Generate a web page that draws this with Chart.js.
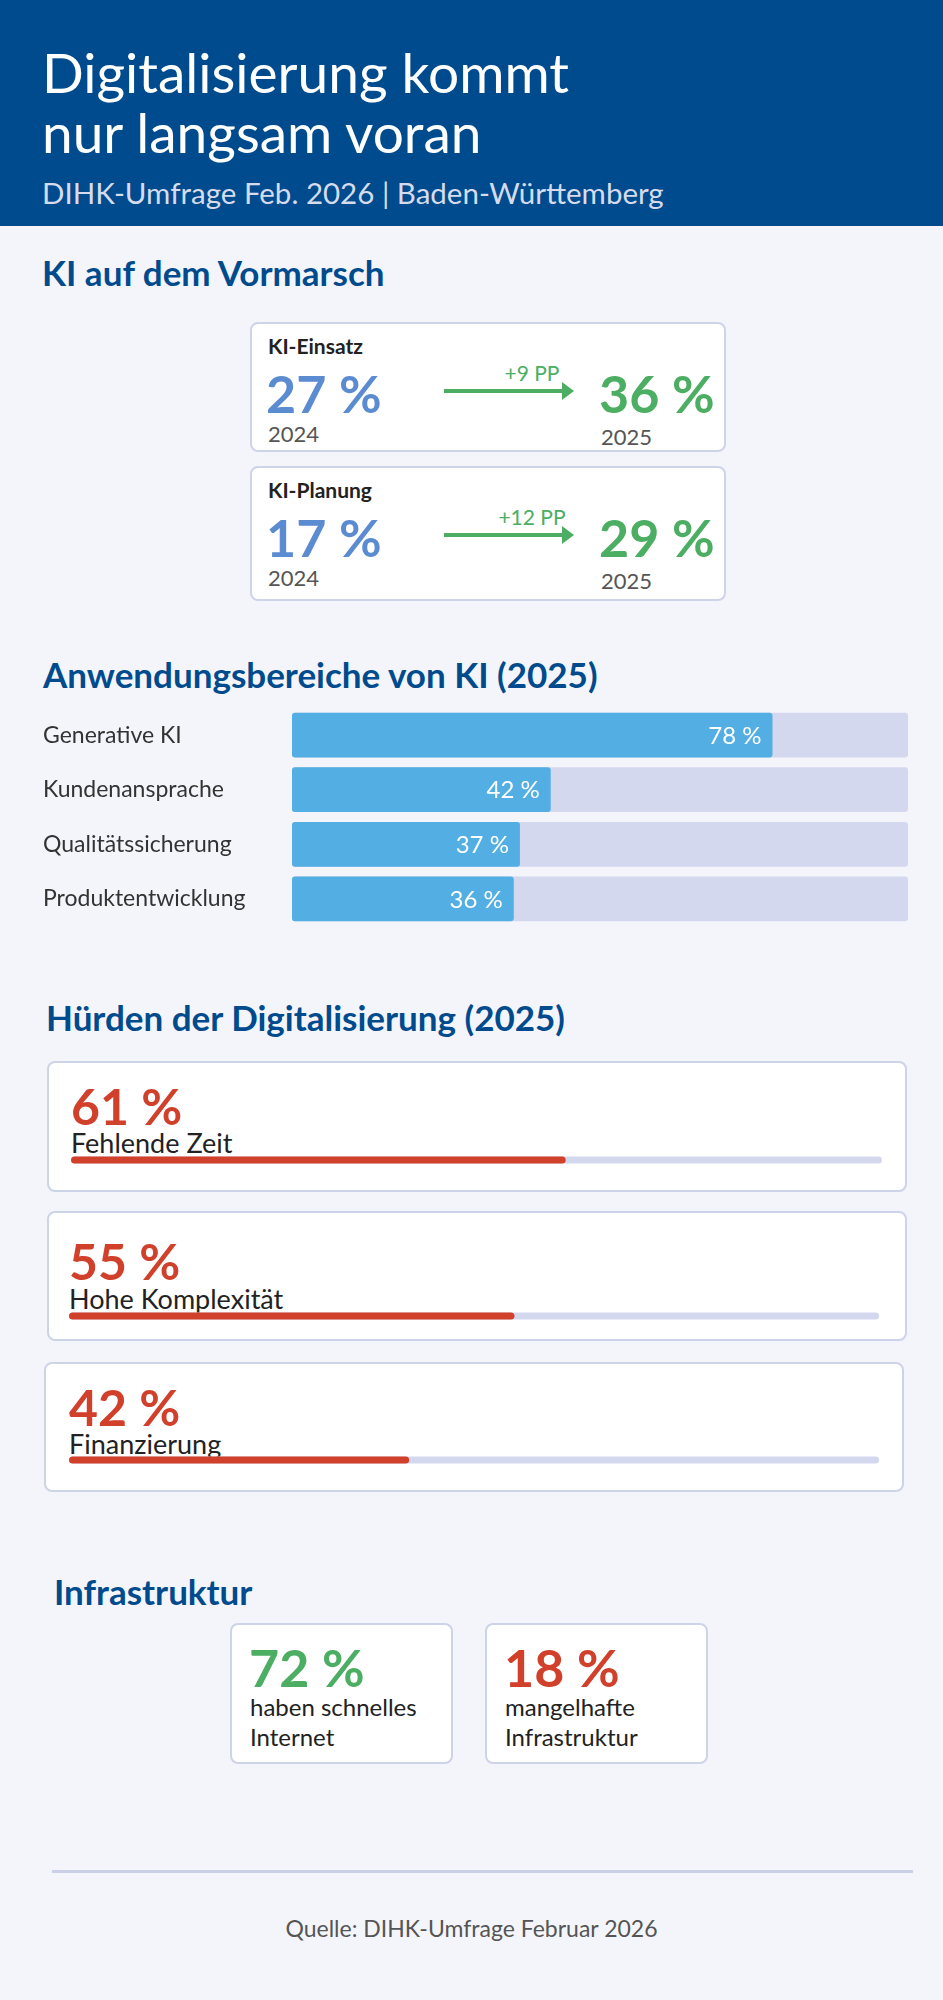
<!DOCTYPE html>
<html><head><meta charset="utf-8">
<script src="https://cdn.jsdelivr.net/npm/chart.js@4.4.1/dist/chart.umd.min.js"></script>
<style>
body{margin:0;background:#F4F5FB;font-family:Lato,"Noto Sans",sans-serif;}
#page{position:relative;width:943px;height:2000px;background:#F4F5FB;overflow:hidden}
.a{position:absolute;line-height:1;white-space:nowrap}
.card{position:absolute;background:#fff;border:2px solid #CDD3E8;border-radius:8px;box-sizing:border-box}
.h{color:#004B8D;font-weight:700;font-size:35px}
.blue{color:#5B8CD1;font-weight:700;font-size:52px}
.green{color:#4BAE62;font-weight:700;font-size:52px}
.red{color:#D1402A;font-weight:700;font-size:50px}
.yr{color:#555;font-size:22px}
.arrow{position:absolute;height:4px;background:#4BAE62}
.arrow:after{content:"";position:absolute;right:-10px;top:-7px;border-left:12px solid #4BAE62;border-top:9px solid transparent;border-bottom:9px solid transparent}
</style></head><body>
<div id="page">
<div style="position:absolute;left:0;top:0;width:943px;height:226px;background:#004B8D"></div>
<div class="a" style="left:42px;top:45px;color:#fff;font-size:55px">Digitalisierung kommt</div>
<div class="a" style="left:42px;top:105px;color:#fff;font-size:55px">nur langsam voran</div>
<div class="a" style="left:42px;top:178px;color:#D6DCEE;font-size:29.5px">DIHK-Umfrage Feb. 2026 | Baden-Württemberg</div>

<div class="a h" style="left:42px;top:255px">KI auf dem Vormarsch</div>
<div id="ki"></div>

<div class="a h" style="left:43px;top:657px">Anwendungsbereiche von KI (2025)</div>
<div style="position:absolute;left:43px;top:694px;width:865px;height:246px"><canvas id="anw"></canvas></div>

<div class="a h" style="left:46px;top:1000px">Hürden der Digitalisierung (2025)</div>
<div id="hurd"></div>

<div class="a h" style="left:54px;top:1574px">Infrastruktur</div>
<div id="infra"></div>

<div style="position:absolute;left:52px;top:1870px;width:861px;height:3px;background:#CAD1E7"></div>
<div class="a" style="left:0;width:943px;text-align:center;top:1917px;color:#555;font-size:23px">Quelle: DIHK-Umfrage Februar 2026</div>
</div>
<script>
// KI-Kennzahlen
const kiTitel = ['KI-Einsatz', 'KI-Planung'];
const ki2024 = [27, 17];
const ki2025 = [36, 29];

// Anwendungsbereiche
const anwLabels = ['Generative KI', 'Kundenansprache', 'Qualitätssicherung', 'Produktentwicklung'];
const anwWerte = [78, 42, 37, 36];

// Hürden
const huerdenLabels = ['Fehlende Zeit', 'Hohe Komplexität', 'Finanzierung'];
const huerdenWerte = [61, 55, 42];

// Infrastruktur
const infraWerte = [72, 18];
const infraTexte = [['haben schnelles', 'Internet'], ['mangelhafte', 'Infrastruktur']];
const infraFarben = ['green', 'red'];

const kiTops = [322, 466];
let html = '';
kiTitel.forEach((t, i) => {
    const y = kiTops[i];
    html += `<div class="card" style="left:250px;top:${y}px;width:476px;height:${i ? 135 : 130}px"></div>
    <div class="a" style="left:268px;top:${y+13}px;font-size:21px;font-weight:700;color:#222">${t}</div>
    <div class="a blue" style="left:266px;top:${y+45}px">${ki2024[i]} %</div>
    <div class="a yr" style="left:268px;top:${y+101}px">2024</div>
    <div class="arrow" style="left:444px;top:${y+67}px;width:120px"></div>
    <div class="a" style="left:482px;width:100px;text-align:center;top:${y+40}px;font-size:21px;color:#4BAE62">+${ki2025[i]-ki2024[i]} PP</div>
    <div class="a green" style="left:599px;top:${y+45}px">${ki2025[i]} %</div>
    <div class="a yr" style="left:601px;top:${y+104}px">2025</div>`;
});
document.getElementById('ki').innerHTML = html;

const valuePlugin = {
    id: 'vals',
    afterDatasetsDraw(chart) {
        const ctx = chart.ctx;
        const meta = chart.getDatasetMeta(1);
        ctx.save();
        ctx.fillStyle = '#fff';
        ctx.font = '24px Lato';
        ctx.textAlign = 'right';
        ctx.textBaseline = 'middle';
        meta.data.forEach((bar, i) => {
            ctx.fillText(anwWerte[i] + ' %', bar.x - 11, bar.y + 1);
        });
        ctx.restore();
    }
};

new Chart(document.getElementById('anw'), {
    type: 'bar',
    data: {
        labels: anwLabels,
        datasets: [
            { data: anwWerte.map(() => 100), backgroundColor: '#D3D8EE', grouped: false, order: 2, borderRadius: 3, borderSkipped: false },
            { data: anwWerte, backgroundColor: '#52AEE3', grouped: false, order: 1, borderRadius: 3, borderSkipped: false }
        ]
    },
    options: {
        indexAxis: 'y', responsive: true, maintainAspectRatio: false, animation: false,
        layout: { padding: { top: 3, bottom: 3 } },
        barPercentage: 0.82, categoryPercentage: 1,
        plugins: { legend: { display: false }, tooltip: { enabled: false } },
        scales: {
            x: { min: 0, max: 100, display: false },
            y: {
                grid: { display: false }, border: { display: false },
                afterFit: s => { s.width = 249; },
                ticks: { crossAlign: 'far', color: '#333', font: { family: 'Lato', size: 23 }, padding: 0 }
            }
        }
    },
    plugins: [valuePlugin]
});

const hCards = [
    { l: 47, t: 1061, w: 860, h: 131, num: 45, lab: 81, bar: 99, bx: 71, bw: 811 },
    { l: 47, t: 1211, w: 860, h: 130, num: 50, lab: 87, bar: 105, bx: 69, bw: 810 },
    { l: 44, t: 1362, w: 860, h: 130, num: 45, lab: 81, bar: 98, bx: 69, bw: 810 }
];
html = '';
hCards.forEach((c, i) => {
    html += `<div class="card" style="left:${c.l}px;top:${c.t}px;width:${c.w}px;height:${c.h}px"></div>
    <div class="a red" style="left:${c.bx}px;top:${c.t+c.num-25}px">${huerdenWerte[i]} %</div>
    <div class="a" style="left:${c.bx}px;top:${c.t+c.lab-13}px;font-size:27px;color:#222">${huerdenLabels[i]}</div>
    <div style="position:absolute;left:${c.bx-2}px;top:${c.t+c.bar-8}px;width:${c.bw+4}px;height:16px"><canvas id="h${i}"></canvas></div>`;
});
document.getElementById('hurd').innerHTML = html;
huerdenWerte.forEach((v, i) => {
    new Chart(document.getElementById('h' + i), {
        type: 'bar',
        data: {
            labels: [huerdenLabels[i]],
            datasets: [
                { data: [100], backgroundColor: '#D3D8EE', grouped: false, order: 2, borderRadius: 4, borderSkipped: false },
                { data: [v], backgroundColor: '#D1402A', grouped: false, order: 1, borderRadius: 4, borderSkipped: false }
            ]
        },
        options: {
            indexAxis: 'y', responsive: true, maintainAspectRatio: false, animation: false,
            layout: { padding: { left: 2, right: 2 } },
            barPercentage: 0.45, categoryPercentage: 1,
            plugins: { legend: { display: false }, tooltip: { enabled: false } },
            scales: { x: { min: 0, max: 100, display: false }, y: { display: false } }
        }
    });
});

const infraLeft = [230, 485];
html = '';
infraWerte.forEach((v, i) => {
    const x = infraLeft[i];
    html += `<div class="card" style="left:${x}px;top:1623px;width:223px;height:141px"></div>
    <div class="a ${infraFarben[i]}" style="left:${x+19}px;top:1641px;font-size:52px">${v} %</div>
    <div class="a" style="left:${x+20}px;top:1695px;font-size:24px;color:#222">${infraTexte[i][0]}</div>
    <div class="a" style="left:${x+20}px;top:1725px;font-size:24px;color:#222">${infraTexte[i][1]}</div>`;
});
document.getElementById('infra').innerHTML = html;
</script>
</body></html>
